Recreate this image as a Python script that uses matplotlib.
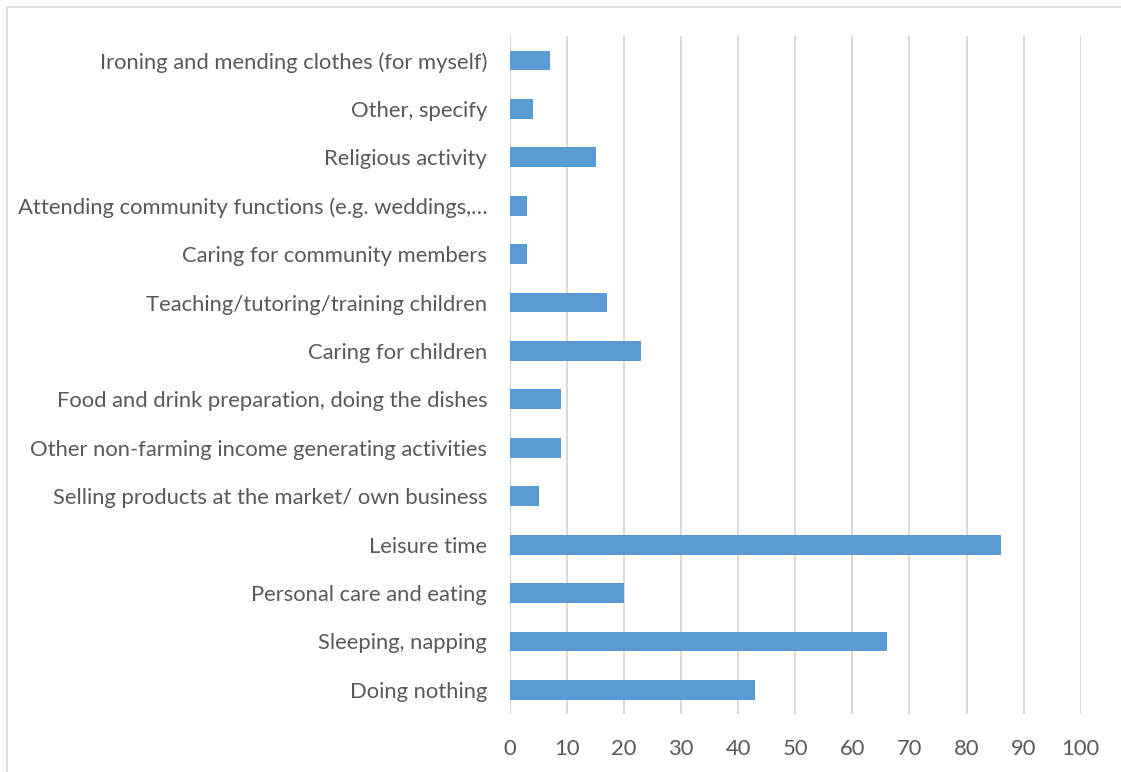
import matplotlib.pyplot as plt
from matplotlib.patches import Rectangle

# Activities, listed bottom to top as they appear on the y axis
activities = [
    "Doing nothing",
    "Sleeping, napping",
    "Personal care and eating",
    "Leisure time",
    "Selling products at the market/ own business",
    "Other non-farming income generating activities",
    "Food and drink preparation, doing the dishes",
    "Caring for children",
    "Teaching/tutoring/training children",
    "Caring for community members",
    "Attending community functions (e.g. weddings,\u2026",
    "Religious activity",
    "Other, specify",
    "Ironing and mending clothes (for myself)",
]
counts = [43, 66, 20, 86, 5, 9, 9, 23, 17, 3, 3, 15, 4, 7]
x_ticks = list(range(0, 101, 10))

BAR_COLOR = "#5b9bd5"
GRID_COLOR = "#d9d9d9"
TEXT_COLOR = "#595959"

plt.rcParams["font.family"] = ["Lato", "DejaVu Sans"]

fig = plt.figure(figsize=(11.21, 7.72), dpi=100)
ax = fig.add_axes([0.455, 0.075, 0.509, 0.878])

ax.barh(range(len(activities)), counts, height=0.41, color=BAR_COLOR, zorder=3)

ax.set_xlim(0, 100)
ax.set_ylim(-0.5, len(activities) - 0.5)
ax.set_xticks(x_ticks)
ax.set_yticks(range(len(activities)))
ax.set_yticklabels(activities)

ax.grid(axis="x", color=GRID_COLOR, linewidth=1.5, zorder=0)
ax.axvline(0, color=GRID_COLOR, linewidth=1.5, zorder=1)
for side in ax.spines.values():
    side.set_visible(False)
ax.tick_params(axis="both", length=0, colors=TEXT_COLOR, labelsize=15.8)
ax.tick_params(axis="y", pad=16.5)
ax.tick_params(axis="x", pad=18)

# thin frame around the whole chart area
fig.patches.append(Rectangle((7 / 1121, -0.01), 1.0, 1 - 7 / 772 + 0.01,
                             transform=fig.transFigure, fill=False,
                             edgecolor=GRID_COLOR, linewidth=1.2))

fig.savefig("out.png", dpi=100)
